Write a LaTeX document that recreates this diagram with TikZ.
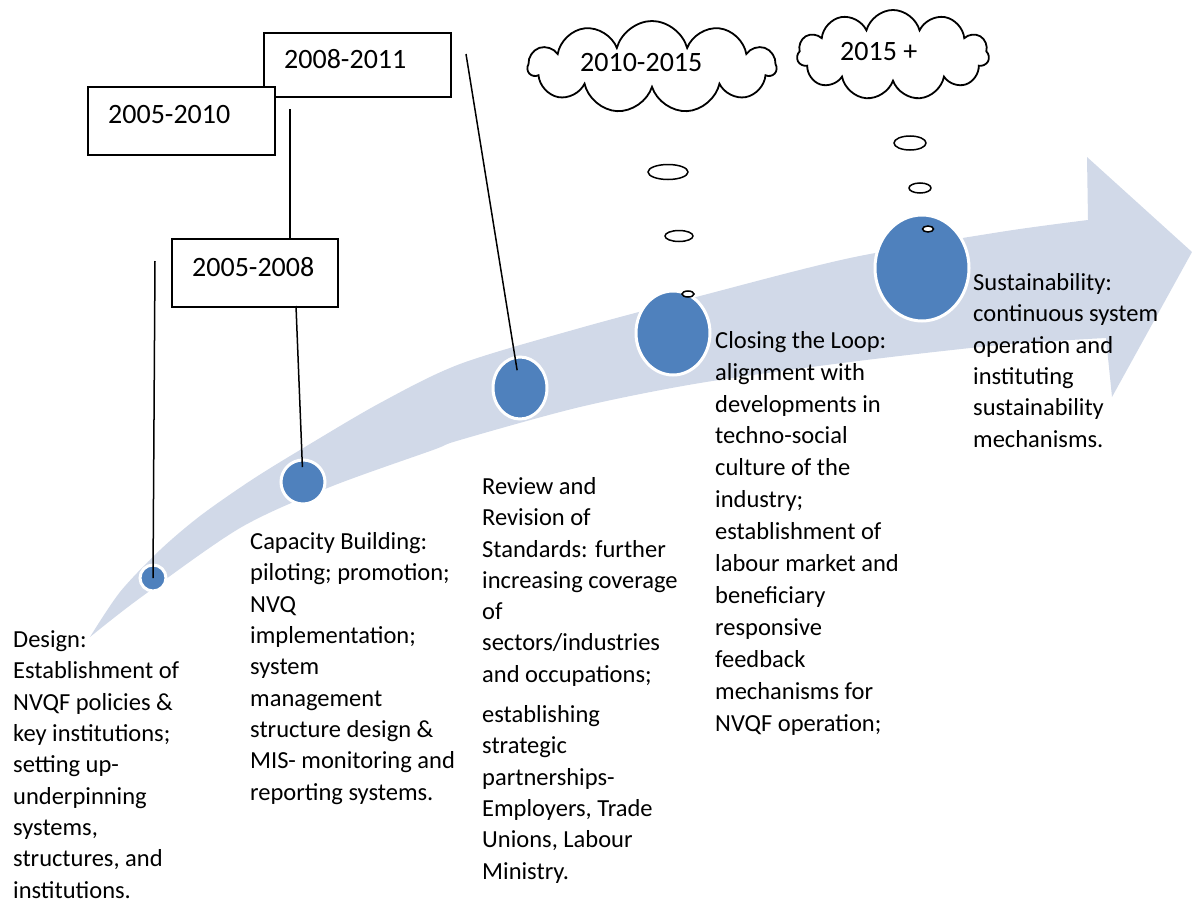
\documentclass[tikz,border=0pt]{standalone}
\usepackage{fontspec}
\setmainfont{Carlito}
\usetikzlibrary{shapes.symbols,shapes.geometric,calc}
\definecolor{bandblue}{HTML}{D1D9E8}
\definecolor{circblue}{HTML}{4F81BD}
\begin{document}
\begin{tikzpicture}[x=1pt,y=-1pt,
  yearbox/.style={draw=black, line width=1.8pt, fill=white, rectangle, inner sep=0pt, anchor=north west},
  yeartext/.style={font=\fontsize{28}{34}\selectfont, anchor=base west, inner sep=0pt},
  bodytext/.style={font=\fontsize{24.5}{31.3}\selectfont, anchor=base west, inner sep=0pt, align=left},
  milestone/.style={ellipse, fill=circblue, draw=white, line width=3pt, inner sep=0pt},
  bubble/.style={ellipse, draw=black, line width=1.5pt, fill=white, inner sep=0pt},
  thought/.style={cloud, draw=black, line width=1.8pt, fill=white, cloud puffs=11, aspect=2.6, inner sep=0pt},
  leader/.style={draw=black, line width=1.5pt}]
\useasboundingbox (0,0) rectangle (1192,907);

% curved arrow band
\fill[bandblue] plot[smooth] coordinates {(90,637) (120,592) (160,550) (200,516) (250,481) (300,450) (380,403) (460,364) (580,328) (700,296) (850,258) (1000,232) (1088,220)}
  -- (1087,157) -- (1192,252) -- (1112,397) -- (1106,338)
  -- plot[smooth] coordinates {(1106,338) (1000,345) (850,362) (700,383) (580,407) (460,440) (433,450) (330,487) (240,528) (140,598) (90,637)} -- cycle;

% milestones
\node[milestone, minimum width=26, minimum height=26] (m1) at (153,578) {};
\node[milestone, minimum width=44, minimum height=44] (m2) at (303,482) {};
\node[milestone, minimum width=54, minimum height=62] (m3) at (520,388) {};
\node[milestone, minimum width=74, minimum height=84] (m4) at (673,333) {};
\node[milestone, minimum width=94, minimum height=106] (m5) at (922,268) {};

% year boxes
\node[yearbox, minimum width=187, minimum height=64] (b2) at (263,32) {};
\node[yeartext] (t2) at (284,69) {2008-2011};
\node[yearbox, minimum width=187, minimum height=68] (b1) at (87,86) {};
\node[yeartext] (t1) at (108,124) {2005-2010};
\node[yearbox, minimum width=166, minimum height=68] (b3) at (171,238) {};
\node[yeartext] (t3) at (192,276) {2005-2008};

% clouds
\node[thought, minimum width=248, minimum height=92] (c1) at (652,67) {};
\node[yeartext] (tc1) at (580,71) {2010-2015};
\node[thought, minimum width=192, minimum height=90, aspect=2.1] (c2) at (893,55) {};
\node[yeartext] (tc2) at (840,61) {2015 +};

% thought bubbles
\node[bubble, minimum width=40, minimum height=15] (e1) at (668,172) {};
\node[bubble, minimum width=28, minimum height=11] (e2) at (679,236) {};
\node[bubble, minimum width=12, minimum height=6] (e3) at (688,294) {};
\node[bubble, minimum width=32, minimum height=14] (f1) at (910,143) {};
\node[bubble, minimum width=22, minimum height=10] (f2) at (920,188) {};
\node[bubble, minimum width=11, minimum height=6] (f3) at (928,229) {};

% leader lines
\coordinate (l1top) at (155,261);
\coordinate (l2top) at (290,109);
\coordinate (l3top) at (296,306);
\coordinate (l4top) at (466,54);
\draw[leader] (l1top) -- (m1.center);
\draw[leader] (l2top) -- (l2top |- b3.north);
\draw[leader, shorten >=15pt] (l3top) -- (m2.center);
\draw[leader, shorten >=18pt] (l4top) -- (m3.center);

% descriptions (anchored at the baseline of their last line)
\node[bodytext] (d1) at (13,898) {Design:\\ Establishment of\\ NVQF policies \&\\ key institutions;\\ setting up-\\ underpinning\\ systems,\\ structures, and\\ institutions.};
\node[bodytext] (d2) at (250,800) {Capacity Building:\\ piloting; promotion;\\ NVQ\\ implementation;\\ system\\ management\\ structure design \&\\ MIS- monitoring and\\ reporting systems.};
\node[bodytext] (d3) at (482,879) {Review and\\ Revision of\\ Standards: further\\ increasing coverage\\ of\\ sectors/industries\\ and occupations;\\[9pt] establishing\\ strategic\\ partnerships-\\ Employers, Trade\\ Unions, Labour\\ Ministry.};
\node[bodytext, font=\fontsize{24.5}{31.9}\selectfont] (d4) at (715,731) {Closing the Loop:\\ alignment with\\ developments in\\ techno-social\\ culture of the\\ industry;\\ establishment of\\ labour market and\\ beneficiary\\ responsive\\ feedback\\ mechanisms for\\ NVQF operation;};
\node[bodytext] (d5) at (973,447) {Sustainability:\\ continuous system\\ operation and\\ instituting\\ sustainability\\ mechanisms.};
\end{tikzpicture}
\end{document}
